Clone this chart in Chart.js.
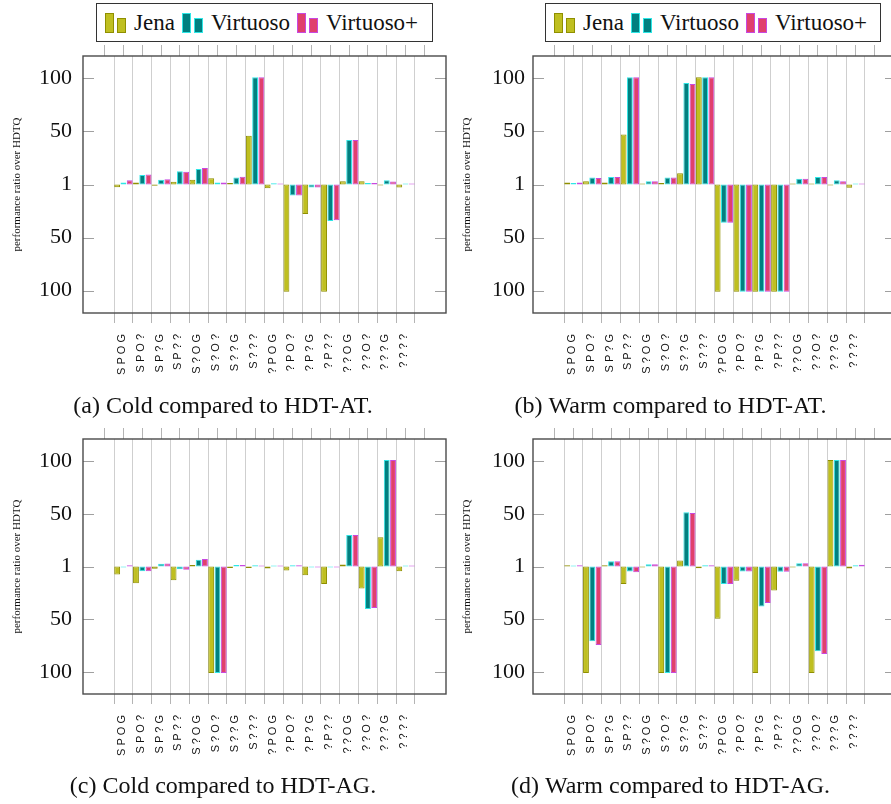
<!DOCTYPE html>
<html>
<head>
<meta charset="utf-8">
<script src="https://cdn.jsdelivr.net/npm/chart.js@4.4.1/dist/chart.umd.min.js"></script>
<style>
  html, body { margin: 0; padding: 0; background: #fff; width: 891px; height: 804px; overflow: hidden; }
  .panel { position: absolute; }
  .legend {
    position: absolute; top: 3px; height: 39px; box-sizing: border-box;
    border: 1px solid #333; background: #fff;
    display: flex; align-items: center; padding-left: 8px;
    font: 23px 'Liberation Serif', serif; color: #111;
  }
  .mk { position: relative; display: inline-block; width: 21px; height: 20px; margin-right: 8px; }
  .mk i { position: absolute; bottom: 0; width: 9px; box-sizing: border-box; border: 1.5px solid; }
  .mk i:first-child { left: 0; height: 20px; }
  .mk i:last-child { left: 12px; height: 15px; }
  .item { display: flex; align-items: center; margin-right: 7px; }
</style>
</head>
<body>
<div class="panel" style="left:0;top:0"><canvas id="coldAT" width="452" height="420"></canvas></div>
<div class="panel" style="left:445px;top:0"><canvas id="warmAT" width="455" height="420"></canvas></div>
<div class="panel" style="left:0;top:420px"><canvas id="coldAG" width="452" height="384"></canvas></div>
<div class="panel" style="left:445px;top:420px"><canvas id="warmAG" width="455" height="384"></canvas></div>
<div class="legend" id="legA" style="left:96px;width:337px"></div>
<div class="legend" id="legB" style="left:545px;width:336px"></div>
<script>
// triple patterns on the x axis
const categories = ['SPOG', 'SPO?', 'SP?G', 'SP??', 'S?OG', 'S?O?', 'S??G', 'S???',
  '?POG', '?PO?', '?P?G', '?P??', '??OG', '??O?', '???G', '????'];
const seriesNames = ['Jena', 'Virtuoso', 'Virtuoso+'];

// y axis: linear, labelled by magnitude (1 = parity)
const yTickValues = [-100, -50, 0, 50, 100];
const yTickLabels = ['100', '50', '1', '50', '100'];

// (a) cold vs HDT-AT
const coldAtJena = [-2.5, 2, -1.2, 2.5, 4.5, 6, 1.3, 46, -3.5, -101, -27.7, -101, 3, 3, -1, -2.8];
const coldAtVirtuoso = [2, 9, 4.5, 12.5, 14.5, 2, 6.6, 101, 1.2, -10.4, -2.8, -34.3, 41.8, 1.3, 4, 1];
const coldAtVirtuosoPlus = [4, 9.5, 5, 12, 15.5, 2, 7.2, 101, 1, -10.4, -2.8, -33.7, 41.8, 1.3, 2.8, 1];

// (b) warm vs HDT-AT
const warmAtJena = [2, 3, 2, 47, 1, 1.3, 10.7, 101, -101, -101, -101, -101, 1, 1, -1, -3];
const warmAtVirtuoso = [1.5, 6.5, 7, 101, 3, 6.5, 95.6, 101, -36, -101, -101, -101, 5.5, 7, 4, 1];
const warmAtVirtuosoPlus = [2, 6.2, 7, 101, 3, 6.5, 94.7, 101, -36, -101, -101, -101, 5.5, 7, 3, 1];

// (c) cold vs HDT-AG
const coldAgJena = [-7.5, -16, -2.2, -13, 1.5, -101, -1.5, -1.5, -1.9, -3.8, -8.2, -16.7, 1.9, -20.8, 27.8, -4.4];
const coldAgVirtuoso = [-1, -4.4, 2.5, -2.5, 6.3, -101, 1.5, 1.2, 1, 1.2, -1, -1, 30, -40.4, 101, 1];
const coldAgVirtuosoPlus = [1.2, -4.4, 2.8, -3, 7, -101, 1.5, 1, 1, 1.2, -1, -1, 30, -39.4, 101, 1];

// (d) warm vs HDT-AG
const warmAgJena = [1.2, -101, 1.2, -16.7, -1, -101, 5.7, -1.6, -49.5, -13.6, -101, -22.7, -1, -101, 101, -1.9];
const warmAgVirtuoso = [1, -71, 5, -4.7, 2.2, -101, 51.4, 1.2, -16.7, -4.7, -37.9, -5, 3.2, -80.5, 101, 1.2];
const warmAgVirtuosoPlus = [1.2, -74.5, 5, -5.4, 2.2, -101, 50.8, 1.2, -16.7, -4.7, -34.7, -5, 3.2, -83, 101, 1.6];

const fills = ['#bfbf20', '#008080', '#e0406c'];
const borders = ['#8f8f00', '#2ee6e6', '#c848e0'];
const SERIF = "'Liberation Serif', 'Times New Roman', serif";

// box around the plot + inner y tick marks on both sides
const framePlugin = {
  id: 'frame',
  afterDraw(chart) {
    const { ctx, chartArea: a, scales: { y } } = chart;
    ctx.save();
    ctx.strokeStyle = '#a0a0a0';
    ctx.lineWidth = 1;
    y.ticks.forEach(t => {
      const py = Math.round(y.getPixelForValue(t.value)) + 0.5;
      ctx.beginPath();
      ctx.moveTo(a.left, py); ctx.lineTo(a.left + 11, py);
      ctx.moveTo(a.right, py); ctx.lineTo(a.right - 11, py);
      ctx.stroke();
    });
    ctx.strokeStyle = '#4a4a4a';
    ctx.lineWidth = 1.4;
    ctx.strokeRect(a.left, a.top, a.right - a.left, a.bottom - a.top);
    ctx.restore();
  }
};

// grid lines sit between the categories
function gridTicks(axis) {
  axis.ticks = categories.concat(['']).map((c, i) => ({ value: i - 0.5 }));
}

// fixed axis sizes, no extra padding requested by the scales
function fixSize(size, horizontal) {
  return s => {
    if (horizontal) s.height = size; else s.width = size;
    s.paddingTop = 0; s.paddingBottom = 0; s.paddingLeft = 0; s.paddingRight = 0;
  };
}

function buildChart(id, series, cfg) {
  const xMin = -2.15, xMax = 17.15;
  new Chart(document.getElementById(id), {
    type: 'bar',
    data: {
      datasets: series.map((vals, k) => ({
        label: seriesNames[k],
        data: vals.map((v, i) => ({ x: i, y: v })),
        backgroundColor: fills[k],
        borderColor: borders[k],
        borderWidth: 1,
        borderSkipped: false,
        categoryPercentage: 1,
        barPercentage: 0.93,
        xAxisID: 'x',
        yAxisID: 'y'
      }))
    },
    options: {
      responsive: false,
      animation: false,
      layout: { autoPadding: false, padding: cfg.padding },
      plugins: {
        legend: { display: false },
        tooltip: { enabled: false },
        title: {
          display: true,
          position: 'bottom',
          text: cfg.caption,
          color: '#111',
          padding: 0,
          font: { family: SERIF, size: 24, weight: 'normal', lineHeight: 1.1 }
        }
      },
      scales: {
        x: {
          type: 'linear', position: 'bottom', min: xMin, max: xMax, offset: false,
          afterBuildTicks: gridTicks,
          afterFit: fixSize(cfg.xHeight, true),
          grid: { color: '#cfcfcf', lineWidth: 1, tickColor: '#b4b4b4', tickLength: 10, offset: false },
          border: { display: false },
          ticks: {
            autoSkip: false, minRotation: 90, maxRotation: 90,
            padding: 11, labelOffset: 8, color: '#111',
            font: { family: "'Liberation Sans', Arial, sans-serif", size: 11 },
            callback: (v, i) => (categories[i] || '').split('').join(' ')
          }
        },
        xTop: {
          type: 'linear', position: 'top', min: xMin, max: xMax, offset: false,
          afterBuildTicks: gridTicks,
          afterFit: fixSize(11, true),
          grid: { drawOnChartArea: false, tickColor: '#b4b4b4', tickLength: 11 },
          border: { display: false },
          ticks: { display: false }
        },
        y: {
          type: 'linear', min: -121, max: 121,
          afterBuildTicks: axis => { axis.ticks = yTickValues.map(v => ({ value: v })); },
          afterFit: fixSize(cfg.yWidth, false),
          grid: { display: false, drawTicks: false },
          border: { display: false },
          ticks: {
            padding: cfg.tickPad, color: '#111',
            font: { family: SERIF, size: 22 },
            callback: (v, i) => yTickLabels[i]
          },
          title: {
            display: true,
            text: 'performance ratio over HDTQ',
            color: '#111',
            font: { family: SERIF, size: 11 },
            padding: { top: cfg.titlePad, bottom: 0 }
          }
        }
      }
    },
    plugins: [framePlugin]
  });
}

function buildLegend(id) {
  const el = document.getElementById(id);
  seriesNames.forEach((name, k) => {
    const item = document.createElement('span');
    item.className = 'item';
    const mk = document.createElement('span');
    mk.className = 'mk';
    for (let j = 0; j < 2; j++) {
      const b = document.createElement('i');
      b.style.background = fills[k];
      b.style.borderColor = borders[k];
      mk.appendChild(b);
    }
    item.appendChild(mk);
    item.appendChild(document.createTextNode(name));
    el.appendChild(item);
  });
}

// caption box: 24px * 1.1 = 26.4px tall
buildChart('coldAT', [coldAtJena, coldAtVirtuoso, coldAtVirtuosoPlus], {
  caption: '(a) Cold compared to HDT-AT.',
  padding: { top: 45, right: 6, bottom: 0, left: 0 }, yWidth: 83, xHeight: 80.6, tickPad: 11, titlePad: 10.4
});
buildChart('warmAT', [warmAtJena, warmAtVirtuoso, warmAtVirtuosoPlus], {
  caption: '(b) Warm compared to HDT-AT.',
  padding: { top: 45, right: 4, bottom: 0, left: 0 }, yWidth: 88, xHeight: 80.6, tickPad: 8, titlePad: 16
});
buildChart('coldAG', [coldAgJena, coldAgVirtuoso, coldAgVirtuosoPlus], {
  caption: '(c) Cold compared to HDT-AG.',
  padding: { top: 8, right: 6, bottom: 3.8, left: 0 }, yWidth: 83, xHeight: 79.8, tickPad: 11, titlePad: 10.4
});
buildChart('warmAG', [warmAgJena, warmAgVirtuoso, warmAgVirtuosoPlus], {
  caption: '(d) Warm compared to HDT-AG.',
  padding: { top: 8, right: 4, bottom: 3.8, left: 0 }, yWidth: 88, xHeight: 79.8, tickPad: 8, titlePad: 16
});
buildLegend('legA');
buildLegend('legB');
</script>
</body>
</html>
